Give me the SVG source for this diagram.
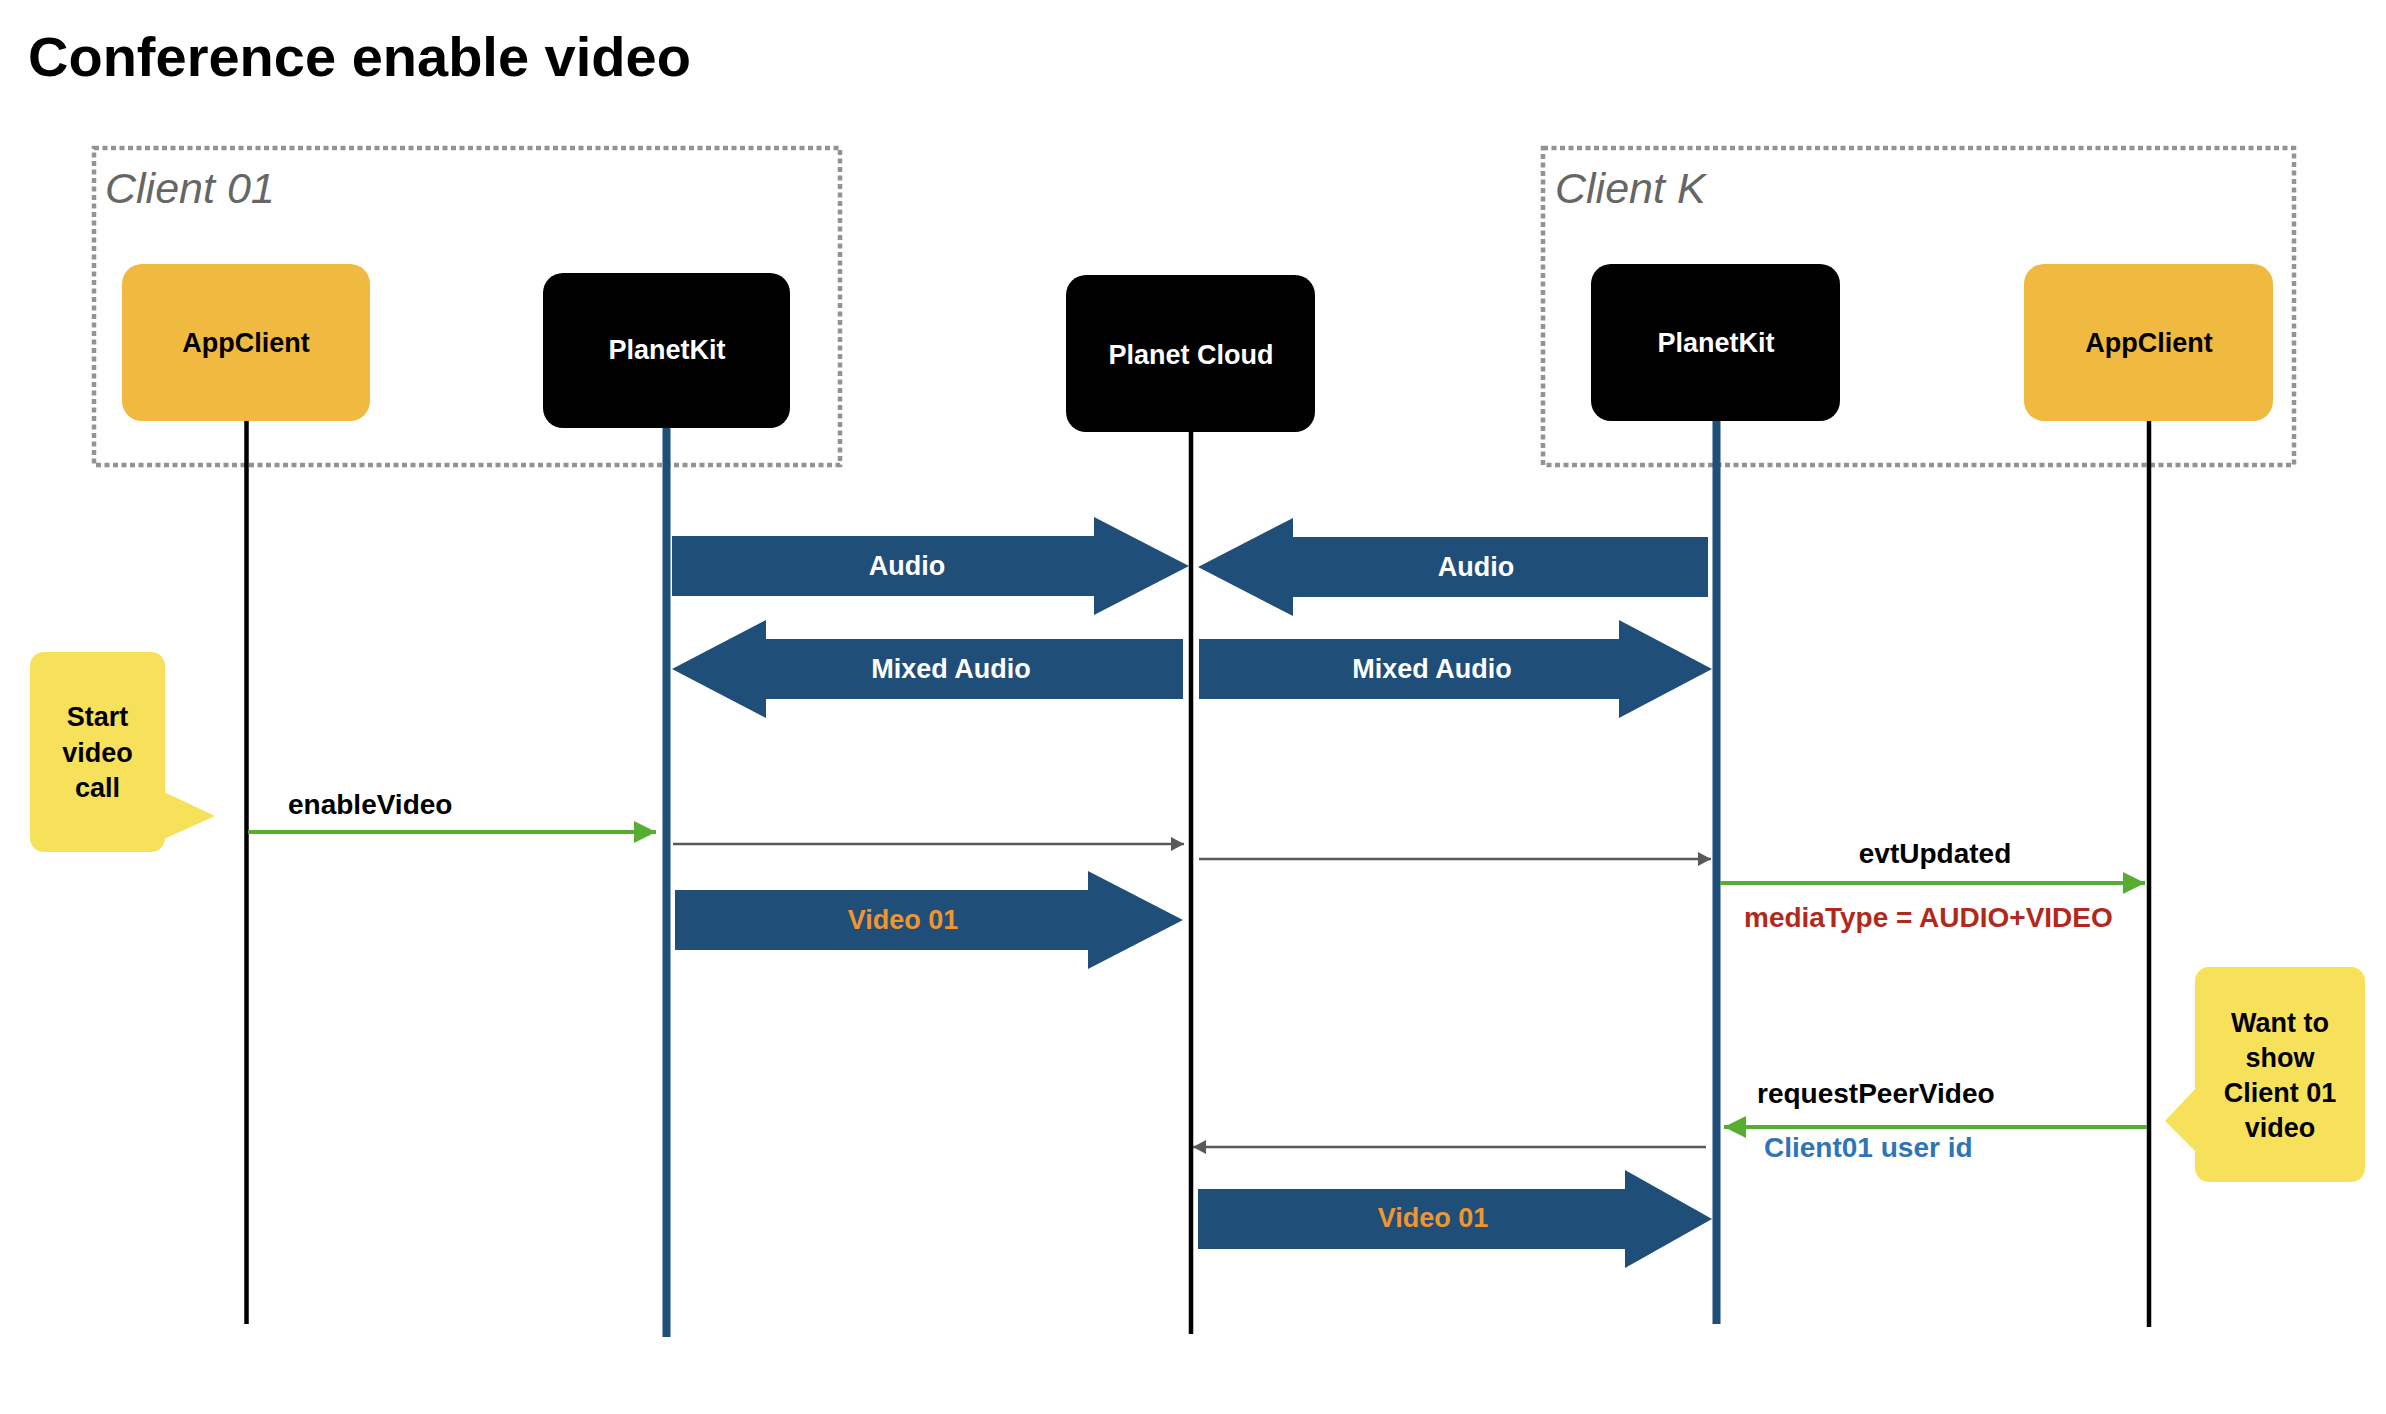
<svg xmlns="http://www.w3.org/2000/svg" width="2386" height="1414" viewBox="0 0 2386 1414">
<style>
text{font-family:"Liberation Sans",Arial,Helvetica,sans-serif}
.title{font-size:56px;font-weight:bold;fill:#000}
.grp{fill:none;stroke:#939393;stroke-width:4.5;stroke-dasharray:5 3.5}
.grplbl{font-size:43px;font-style:italic;fill:#666}
.app{fill:#F0BA40}
.kit{fill:#000}
.lbl{font-size:27px;font-weight:bold;text-anchor:middle}
.dark{fill:#000}
.light{fill:#fff}
.lifeK{stroke:#000;stroke-width:4.5;fill:none}
.lifeB{stroke:#1F4E79;stroke-width:8;fill:none}
.block{fill:#1F4E79}
.video{fill:#F0952F}
.msg{stroke:#56AD32;stroke-width:4;fill:none;marker-end:url(#gh)}
.net{stroke:#595959;stroke-width:2.5;fill:none;marker-end:url(#ah)}
.mtext{font-size:28px;font-weight:bold;fill:#000}
.note{fill:#F7E15A}
</style>
<defs>
<marker id="gh" markerUnits="userSpaceOnUse" markerWidth="22" markerHeight="22" refX="22" refY="11" orient="auto"><path d="M0,0 L22,11 L0,22 z" fill="#56AD32"/></marker>
<marker id="ah" markerUnits="userSpaceOnUse" markerWidth="13" markerHeight="14" refX="13" refY="7" orient="auto"><path d="M0,0 L13,7 L0,14 z" fill="#595959"/></marker>
</defs>
<rect width="2386" height="1414" fill="#fff"/>
<text class="title" x="28" y="76">Conference enable video</text>

<g id="client01">
<rect class="grp" x="94" y="148" width="746" height="317"/>
<text class="grplbl" x="105" y="203">Client 01</text>
</g>
<g id="clientK">
<rect class="grp" x="1543" y="148" width="751" height="317"/>
<text class="grplbl" x="1555" y="203">Client K</text>
</g>

<g id="lifelines">
<line class="lifeK" x1="246.5" y1="421" x2="246.5" y2="1324"/>
<line class="lifeB" x1="666.5" y1="428" x2="666.5" y2="1337"/>
<line class="lifeK" x1="1191" y1="432" x2="1191" y2="1334"/>
<line class="lifeB" x1="1716.5" y1="421" x2="1716.5" y2="1324"/>
<line class="lifeK" x1="2149" y1="421" x2="2149" y2="1327"/>
</g>

<g id="appclient01">
<rect class="app" x="122" y="264" width="248" height="157" rx="20"/>
<text class="lbl dark" x="246" y="352">AppClient</text>
</g>
<g id="planetkit01">
<rect class="kit" x="543" y="273" width="247" height="155" rx="20"/>
<text class="lbl light" x="667" y="359">PlanetKit</text>
</g>
<g id="planetcloud">
<rect class="kit" x="1066" y="275" width="249" height="157" rx="20"/>
<text class="lbl light" x="1191" y="364">Planet Cloud</text>
</g>
<g id="planetkitK">
<rect class="kit" x="1591" y="264" width="249" height="157" rx="20"/>
<text class="lbl light" x="1716" y="352">PlanetKit</text>
</g>
<g id="appclientK">
<rect class="app" x="2024" y="264" width="249" height="157" rx="20"/>
<text class="lbl dark" x="2149" y="352">AppClient</text>
</g>

<g id="note-start">
<rect class="note" x="30" y="652" width="135" height="200" rx="14"/>
<polygon class="note" points="164,792 215,816 164,839"/>
<text class="lbl dark" x="97.5" y="726">Start</text>
<text class="lbl dark" x="97.5" y="762">video</text>
<text class="lbl dark" x="97.5" y="797">call</text>
</g>
<g id="note-want">
<rect class="note" x="2195" y="967" width="170" height="215" rx="14"/>
<polygon class="note" points="2196,1088 2165,1121 2196,1152"/>
<text class="lbl dark" x="2280" y="1032">Want to</text>
<text class="lbl dark" x="2280" y="1067">show</text>
<text class="lbl dark" x="2280" y="1102">Client 01</text>
<text class="lbl dark" x="2280" y="1137">video</text>
</g>

<g id="connectors">
<polygon class="block" points="672,536 1094,536 1094,517 1189,566 1094,615 1094,596 672,596"/>
<text class="lbl light" x="907" y="575">Audio</text>
<polygon class="block" points="1198,567 1293,518 1293,537 1708,537 1708,597 1293,597 1293,616"/>
<text class="lbl light" x="1476" y="576">Audio</text>
<polygon class="block" points="672,669 766,620 766,639 1183,639 1183,699 766,699 766,718"/>
<text class="lbl light" x="951" y="678">Mixed Audio</text>
<polygon class="block" points="1199,639 1619,639 1619,620 1712,669 1619,718 1619,699 1199,699"/>
<text class="lbl light" x="1432" y="678">Mixed Audio</text>

<line class="msg" x1="248" y1="832" x2="656" y2="832"/>
<text class="mtext" x="288" y="814">enableVideo</text>
<line class="net" x1="673" y1="844" x2="1184" y2="844"/>
<line class="net" x1="1199" y1="859" x2="1711" y2="859"/>
<polygon class="block" points="675,890 1088,890 1088,871 1183,920 1088,969 1088,950 675,950"/>
<text class="lbl video" x="903" y="929">Video 01</text>

<line class="msg" x1="1720" y1="883" x2="2145" y2="883"/>
<text class="mtext" x="1935" y="863" text-anchor="middle">evtUpdated</text>
<text class="mtext" x="1744" y="927" style="fill:#B2291B">mediaType = AUDIO+VIDEO</text>

<line class="msg" x1="2147" y1="1127" x2="1724" y2="1127"/>
<text class="mtext" x="1757" y="1103">requestPeerVideo</text>
<text class="mtext" x="1764" y="1157" style="fill:#2E75B6">Client01 user id</text>
<line class="net" x1="1706" y1="1147" x2="1193" y2="1147"/>
<polygon class="block" points="1198,1189 1625,1189 1625,1170 1712,1219 1625,1268 1625,1249 1198,1249"/>
<text class="lbl video" x="1433" y="1227">Video 01</text>
</g>
</svg>
